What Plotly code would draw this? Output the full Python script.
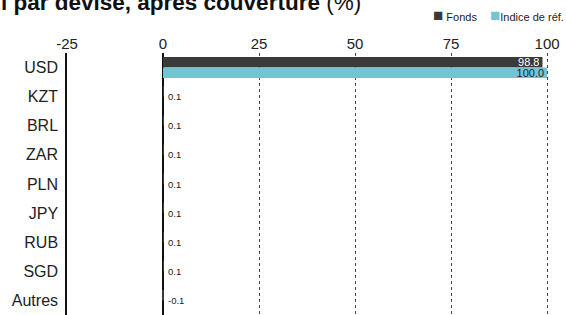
import plotly.graph_objects as go

categories = ["USD", "KZT", "BRL", "ZAR", "PLN", "JPY", "RUB", "SGD", "Autres"]
fonds = [98.8, 0.1, 0.1, 0.1, 0.1, 0.1, 0.1, 0.1, -0.1]
indice = [100.0, 0, 0, 0, 0, 0, 0, 0, 0]
x_ticks = [-25, 0, 25, 50, 75, 100]
x_tick_labels = ["-25", "0", "25", "50", "75", "100"]
series_names = ["Fonds", "Indice de réf."]
title_bold = "l par devise, après couverture"
title_unit = "(%)"

DARK = "#3a3a3a"
BLUE = "#74c5d3"
FONT = "Liberation Sans"

W, H = 566, 315
L, R, T, B = 67, 17, 53, 0
pw, ph = W - L - R, H - T - B

def px_x(p):
    return (p - L) / pw

def px_y(p):
    return (H - B - p) / ph

big_f = [f"{v:.1f}" if abs(v) >= 5 else "" for v in fonds]
big_i = [f"{v:.1f}" if abs(v) >= 5 else "" for v in indice]

fig = go.Figure()
fig.add_trace(go.Bar(y=categories, x=fonds, orientation="h", name=series_names[0],
                     marker=dict(color=DARK, line=dict(width=0)),
                     text=big_f, textposition="inside", insidetextanchor="end",
                     textfont=dict(color="white", size=11, family=FONT),
                     showlegend=False, hoverinfo="skip"))
fig.add_trace(go.Bar(y=categories, x=indice, orientation="h", name=series_names[1],
                     marker=dict(color=BLUE, line=dict(width=0)),
                     text=big_i, textposition="inside", insidetextanchor="end",
                     textfont=dict(color="#222", size=11, family=FONT),
                     showlegend=False, hoverinfo="skip"))

sq = '<span style="color:{c};font-size:17px">■</span>'
annotations = [
    dict(text=f"<b>{title_bold}</b> {title_unit}", xref="paper", yref="paper",
         x=px_x(-1), y=px_y(2), xanchor="left", yanchor="middle",
         showarrow=False, font=dict(size=22.5, family=FONT, color="#111")),
    dict(text=f'{sq.format(c=DARK)} {series_names[0]}', xref="paper", yref="paper",
         x=px_x(431), y=px_y(15), xanchor="left", yanchor="middle",
         showarrow=False, font=dict(size=11, family=FONT, color="#222")),
    dict(text=f'{sq.format(c=BLUE)}{series_names[1]}', xref="paper", yref="paper",
         x=px_x(566), y=px_y(15), xanchor="right", yanchor="middle",
         showarrow=False, font=dict(size=11, family=FONT, color="#222")),
]
for cat, v in zip(categories, fonds):
    if abs(v) < 5:
        annotations.append(dict(text=f"{v:.1f}", x=0, y=cat, xref="x", yref="y",
                                xanchor="left", yanchor="middle", xshift=3,
                                showarrow=False,
                                font=dict(size=9.5, family=FONT, color="#222")))

fig.update_layout(
    width=W, height=H,
    margin=dict(l=L, r=R, t=T, b=B, pad=0, autoexpand=False),
    paper_bgcolor="white", plot_bgcolor="white",
    font=dict(family=FONT, color="#222"),
    barmode="group", bargap=0.28, bargroupgap=0,
    showlegend=False,
    uniformtext=dict(minsize=11, mode="show"),
    xaxis=dict(side="top", range=[-25, 100.5], tickvals=x_ticks, ticktext=x_tick_labels,
               tickfont=dict(size=15, family=FONT, color="#222"),
               showgrid=True, gridcolor="#444", griddash="dot", gridwidth=1,
               zeroline=True, zerolinecolor="#111", zerolinewidth=1.5,
               showline=False, ticks="", ticklabelstandoff=0, fixedrange=True),
    yaxis=dict(autorange="reversed", showline=True, linecolor="#111", linewidth=1.5,
               tickfont=dict(size=16, family=FONT, color="#222"),
               ticks="", ticklabelstandoff=4, showgrid=False, zeroline=False,
               fixedrange=True),
    annotations=annotations,
)

fig.write_html("out.html", config={"displayModeBar": False},
               post_script="document.body.style.margin='0';")
